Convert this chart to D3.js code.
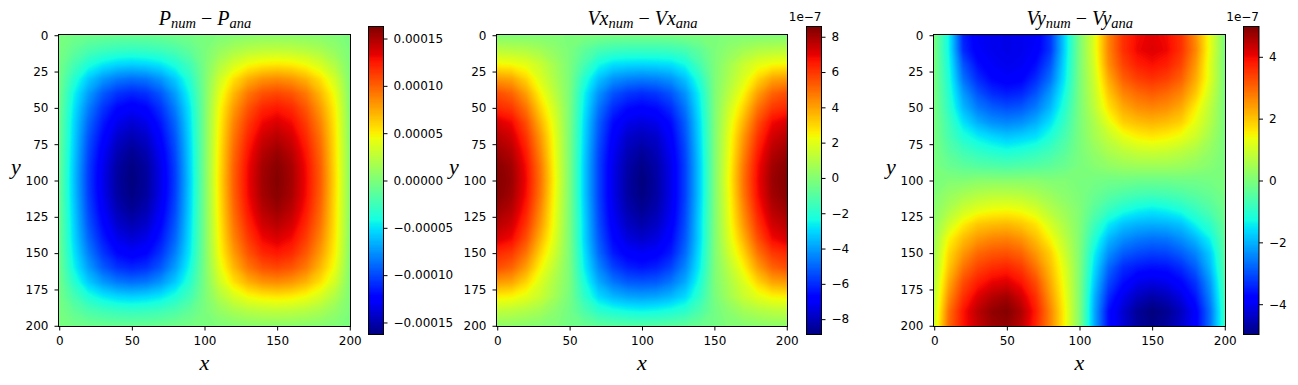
<!DOCTYPE html>
<html lang="en">

<head>
    <meta charset="UTF-8">
    <title>Numerical minus analytical fields</title>
    <script src="https://d3js.org/d3.v7.min.js"></script>
    <style>
        body {
            margin: 0;
            background: white;
        }

        text {
            font-family: "DejaVu Sans", sans-serif;
            font-size: 12px;
            fill: black;
        }

        .math, .math tspan {
            font-family: "Liberation Serif", serif;
            font-style: italic;
        }
    </style>
</head>

<body>
    <svg id="chart" width="1298" height="385"></svg>

    <script>
        // grids are read off the picture, one row every 10 cells in y, one value every 10 cells in x
        // pressure in 1e-5
        var pressureGrid = [
            [0, -.3, -.5, -.6, -.7, -.7, -.7, -.6, -.4, -.2, 0, .2, .4, .6, .7, .7, .7, .6, .5, .3, 0],
            [0, -1, -1.8, -2.3, -2.6, -2.7, -2.6, -2.3, -1.8, -1, 0, 1, 1.8, 2.3, 2.6, 2.7, 2.6, 2.3, 1.8, 1, .1],
            [-.2, -2, -3.6, -4.6, -5.2, -5.4, -5.2, -4.7, -3.6, -2.2, 0, 2.1, 3.6, 4.7, 5.2, 5.4, 5.2, 4.6, 3.6, 2.1, .2],
            [-.3, -3.2, -5.6, -7.2, -8.2, -8.6, -8.3, -7.3, -5.6, -3.2, 0, 3.2, 5.6, 7.3, 8.3, 8.6, 8.2, 7.2, 5.6, 3.4, .3],
            [-.4, -4.2, -7, -9.2, -10.5, -11, -10.6, -9.3, -7, -4, 0, 4, 7, 9.3, 10.6, 11, 10.5, 9.2, 7, 4.4, .4],
            [-.5, -4.7, -8, -10.4, -12, -12.6, -12.1, -10.5, -8, -4.6, 0, 4.6, 8, 10.5, 12.1, 12.6, 12, 10.4, 8, 5, .5],
            [-.6, -5.1, -8.8, -11.3, -13.1, -13.8, -13.2, -11.4, -8.8, -4.9, 0, 4.9, 8.8, 11.4, 13.2, 13.8, 13.1, 11.3, 8.8, 5.3, .6],
            [-.6, -5.3, -9.4, -12, -14, -14.8, -14.1, -12.1, -9.3, -5.1, 0, 5.1, 9.3, 12.1, 14.1, 14.8, 14, 12, 9.4, 5.5, .6],
            [-.7, -5.5, -9.8, -12.6, -14.7, -15.6, -14.8, -12.7, -9.7, -5.3, 0, 5.3, 9.7, 12.7, 14.8, 15.6, 14.7, 12.6, 9.8, 5.6, .7],
            [-.7, -5.7, -10.1, -13, -15.2, -16.1, -15.3, -13.1, -10, -5.4, 0, 5.4, 10, 13.1, 15.3, 16.1, 15.2, 13, 10.1, 5.7, .7],
            [-.7, -5.8, -10.2, -13.1, -15.3, -16.27, -15.4, -13.2, -10.1, -5.5, 0, 5.5, 10.1, 13.2, 15.4, 16.27, 15.3, 13.1, 10.2, 5.8, .7],
            [-.7, -5.7, -10.1, -13, -15.2, -16.1, -15.3, -13.1, -10, -5.4, 0, 5.4, 10, 13.1, 15.3, 16.1, 15.2, 13, 10.1, 5.7, .7],
            [-.7, -5.5, -9.8, -12.6, -14.7, -15.6, -14.8, -12.7, -9.7, -5.3, 0, 5.3, 9.7, 12.7, 14.8, 15.6, 14.7, 12.6, 9.8, 5.6, .7],
            [-.6, -5.3, -9.4, -12, -14, -14.8, -14.1, -12.1, -9.3, -5.1, 0, 5.1, 9.3, 12.1, 14.1, 14.8, 14, 12, 9.4, 5.5, .6],
            [-.6, -5.1, -8.8, -11.3, -13.1, -13.8, -13.2, -11.4, -8.8, -4.9, 0, 4.9, 8.8, 11.4, 13.2, 13.8, 13.1, 11.3, 8.8, 5.3, .6],
            [-.5, -4.7, -8, -10.4, -12, -12.6, -12.1, -10.5, -8, -4.6, 0, 4.6, 8, 10.5, 12.1, 12.6, 12, 10.4, 8, 5, .5],
            [-.4, -4.2, -7, -9.2, -10.5, -11, -10.6, -9.3, -7, -4, 0, 4, 7, 9.3, 10.6, 11, 10.5, 9.2, 7, 4.4, .4],
            [-.3, -3.2, -5.6, -7.2, -8.2, -8.6, -8.3, -7.3, -5.6, -3.2, 0, 3.2, 5.6, 7.3, 8.3, 8.6, 8.2, 7.2, 5.6, 3.4, .3],
            [-.2, -2, -3.6, -4.6, -5.2, -5.4, -5.2, -4.7, -3.6, -2.2, 0, 2.1, 3.6, 4.7, 5.2, 5.4, 5.2, 4.6, 3.6, 2.1, .2],
            [0, -1, -1.8, -2.3, -2.6, -2.7, -2.6, -2.3, -1.8, -1, 0, 1, 1.8, 2.3, 2.6, 2.7, 2.6, 2.3, 1.8, 1, .1],
            [0, -.3, -.5, -.6, -.7, -.7, -.7, -.6, -.4, -.2, 0, .2, .4, .6, .7, .7, .7, .6, .5, .3, 0]
        ];

        // vx in 1e-7
        var vxGrid = [
            [0, 0, 0, 0, 0, -.1, -.1, -.1, -.2, -.2, -.2, -.2, -.2, -.1, -.1, -.1, 0, 0, 0, 0, 0],
            [1.2, 1.1, 1, .7, .3, -.1, -.7, -1.2, -1.4, -1.5, -1.5, -1.5, -1.4, -1.2, -.7, -.1, .3, .7, 1, 1.1, 1.2],
            [2.5, 2.4, 2.1, 1.5, .7, -.1, -1.2, -2.3, -2.8, -2.9, -2.95, -2.9, -2.8, -2.3, -1.2, -.1, .7, 1.5, 2.1, 2.4, 2.5],
            [4.2, 4, 3.1, 1.9, .9, -.1, -1.9, -3.3, -4.1, -4.4, -4.5, -4.4, -4.1, -3.3, -1.9, -.1, .9, 1.9, 3.1, 4, 4.2],
            [5.6, 5.2, 4.1, 2.5, 1.2, -.1, -2.4, -4.1, -5.2, -5.7, -5.9, -5.7, -5.2, -4.1, -2.4, -.1, 1.2, 2.5, 4.1, 5.2, 5.6],
            [6.3, 6, 4.9, 3.1, 1.6, -.1, -2.6, -4.6, -5.9, -6.5, -6.7, -6.5, -5.9, -4.6, -2.6, -.1, 1.6, 3.1, 4.9, 6, 6.3],
            [7.3, 6.9, 5.6, 3.7, 1.9, -.1, -2.8, -5, -6.5, -7.2, -7.4, -7.2, -6.5, -5, -2.8, -.1, 1.9, 3.7, 5.6, 6.9, 7.3],
            [7.8, 7.4, 6.1, 4.2, 2.1, -.1, -2.9, -5.2, -6.8, -7.7, -7.95, -7.7, -6.8, -5.2, -2.9, -.1, 2.1, 4.2, 6.1, 7.4, 7.8],
            [8.2, 7.8, 6.5, 4.5, 2.2, -.1, -3, -5.4, -7, -8, -8.4, -8, -7, -5.4, -3, -.1, 2.2, 4.5, 6.5, 7.8, 8.2],
            [8.5, 8.1, 6.8, 4.8, 2.3, -.1, -3.1, -5.5, -7.2, -8.2, -8.7, -8.2, -7.2, -5.5, -3.1, -.1, 2.3, 4.8, 6.8, 8.1, 8.5],
            [8.58, 8.2, 6.9, 4.9, 2.4, -.1, -3.1, -5.5, -7.2, -8.3, -8.87, -8.3, -7.2, -5.5, -3.1, -.1, 2.4, 4.9, 6.9, 8.2, 8.58],
            [8.5, 8.1, 6.8, 4.8, 2.3, -.1, -3.1, -5.5, -7.2, -8.3, -8.8, -8.3, -7.2, -5.5, -3.1, -.1, 2.3, 4.8, 6.8, 8.1, 8.5],
            [8.2, 7.8, 6.5, 4.5, 2.2, -.1, -3, -5.4, -7.1, -8.1, -8.55, -8.1, -7.1, -5.4, -3, -.1, 2.2, 4.5, 6.5, 7.8, 8.2],
            [7.8, 7.4, 6.1, 4.2, 2.1, -.1, -2.9, -5.3, -6.9, -7.8, -8.2, -7.8, -6.9, -5.3, -2.9, -.1, 2.1, 4.2, 6.1, 7.4, 7.8],
            [7.3, 6.9, 5.6, 3.7, 1.9, -.1, -2.9, -5.1, -6.6, -7.4, -7.7, -7.4, -6.6, -5.1, -2.9, -.1, 1.9, 3.7, 5.6, 6.9, 7.3],
            [6.3, 6, 4.9, 3.1, 1.6, -.1, -2.7, -4.8, -6.2, -6.8, -7, -6.8, -6.2, -4.8, -2.7, -.1, 1.6, 3.1, 4.9, 6, 6.3],
            [5.6, 5.2, 4.1, 2.5, 1.2, -.1, -2.5, -4.3, -5.5, -6.1, -6.3, -6.1, -5.5, -4.3, -2.5, -.1, 1.2, 2.5, 4.1, 5.2, 5.6],
            [4.2, 4, 3.1, 1.9, .9, -.1, -2.1, -3.7, -4.6, -5.1, -5.2, -5.1, -4.6, -3.7, -2.1, -.1, .9, 1.9, 3.1, 4, 4.2],
            [2.6, 2.5, 2.1, 1.5, .7, -.2, -1.7, -2.9, -3.5, -3.8, -3.9, -3.8, -3.5, -2.9, -1.7, -.2, .7, 1.5, 2.1, 2.5, 2.6],
            [1.3, 1.2, 1, .7, .2, -.3, -1.1, -1.8, -2.1, -2.3, -2.4, -2.3, -2.1, -1.8, -1.1, -.3, .2, .7, 1, 1.2, 1.3],
            [.3, .3, .2, .1, 0, -.3, -.5, -.7, -.8, -.9, -.9, -.9, -.8, -.7, -.5, -.3, 0, .1, .2, .3, .3]
        ];

        // vy in 1e-7
        var vyGrid = [
            [0, -1.3, -3.4, -3.9, -4, -4.05, -4, -3.9, -3.2, -1.6, 0, 1.2, 2.7, 3.6, 4, 4.15, 4, 3.6, 2.6, 1.3, 0],
            [0, -1.3, -3.3, -3.85, -4, -4.05, -4, -3.85, -3.2, -1.6, 0, 1.2, 2.7, 3.6, 4.05, 4.2, 4.05, 3.6, 2.7, 1.3, 0],
            [0, -1.2, -2.9, -3.6, -3.9, -4, -3.95, -3.6, -2.9, -1.5, 0, 1.1, 2.6, 3.4, 3.8, 3.95, 3.8, 3.4, 2.5, 1.2, 0],
            [0, -1.1, -2.6, -3.3, -3.7, -3.85, -3.75, -3.3, -2.6, -1.4, 0, 1, 2.3, 3.1, 3.45, 3.6, 3.45, 3.1, 2.3, 1.2, 0],
            [0, -1, -2.2, -2.9, -3.3, -3.45, -3.35, -2.9, -2.2, -1.2, 0, .9, 2, 2.7, 3, 3.15, 3, 2.7, 2, 1, 0],
            [0, -.9, -1.9, -2.5, -2.8, -2.95, -2.85, -2.5, -1.9, -1, 0, .8, 1.7, 2.3, 2.6, 2.7, 2.6, 2.3, 1.6, .8, 0],
            [0, -.7, -1.5, -2, -2.3, -2.4, -2.3, -2, -1.5, -.8, 0, .6, 1.3, 1.9, 2.1, 2.2, 2.1, 1.9, 1.3, .7, 0],
            [0, -.6, -1.1, -1.4, -1.6, -1.75, -1.65, -1.5, -1.1, -.6, 0, .5, .9, 1.3, 1.55, 1.65, 1.55, 1.35, 1, .5, 0],
            [0, -.4, -.7, -.9, -1.05, -1.15, -1.05, -.9, -.7, -.4, 0, .3, .6, .8, .95, 1, .95, .8, .6, .3, 0],
            [0, -.2, -.35, -.45, -.5, -.55, -.5, -.45, -.35, -.2, 0, .15, .3, .4, .45, .45, .45, .4, .3, .15, 0],
            [0, .1, .1, .2, .2, .2, .2, .2, .1, .1, 0, -.05, -.1, -.1, -.15, -.15, -.15, -.1, -.1, -.05, 0],
            [.1, .35, .55, .7, .8, .8, .75, .6, .4, .2, .05, -.2, -.4, -.55, -.65, -.7, -.65, -.55, -.4, -.25, -.05],
            [.2, .6, 1, 1.25, 1.4, 1.45, 1.35, 1.1, .7, .4, .1, -.4, -.8, -1.1, -1.3, -1.4, -1.3, -1.1, -.8, -.5, -.15],
            [.3, 1, 1.6, 2, 2.1, 2.15, 2, 1.7, 1.1, .6, .1, -.7, -1.4, -1.8, -1.95, -2, -1.95, -1.8, -1.3, -.9, -.25],
            [.4, 1.5, 2.1, 2.5, 2.7, 2.75, 2.55, 2.1, 1.5, .8, .1, -1, -1.9, -2.3, -2.5, -2.6, -2.55, -2.3, -1.9, -1.3, -.35],
            [.5, 1.8, 2.5, 3, 3.2, 3.25, 3.05, 2.5, 1.9, 1, .1, -1.3, -2.3, -2.8, -3, -3.1, -3.05, -2.8, -2.4, -1.7, -.4],
            [.6, 2, 2.9, 3.4, 3.65, 3.75, 3.5, 2.9, 2.1, 1.2, .1, -1.5, -2.7, -3.3, -3.5, -3.6, -3.55, -3.3, -2.8, -1.9, -.5],
            [.7, 2.3, 3.3, 3.8, 4.1, 4.2, 3.9, 3.3, 2.3, 1.3, .1, -1.7, -3, -3.6, -4, -4.1, -4, -3.7, -3.2, -2.2, -.6],
            [.8, 2.6, 3.6, 4.2, 4.55, 4.7, 4.3, 3.6, 2.5, 1.4, .1, -1.9, -3.3, -4, -4.4, -4.6, -4.45, -4.1, -3.5, -2.4, -.7],
            [.9, 2.9, 3.9, 4.5, 4.85, 4.98, 4.6, 3.8, 2.7, 1.5, .1, -2, -3.6, -4.25, -4.75, -4.98, -4.8, -4.4, -3.8, -2.6, -.8],
            [1, 3, 3.9, 4.4, 4.75, 4.85, 4.5, 3.7, 2.7, 1.5, .1, -2, -3.6, -4.2, -4.7, -4.9, -4.7, -4.3, -3.8, -2.6, -.8]
        ];

        var gridStep = 10;
        var imageTicks = [0, 50, 100, 150, 200];
        var imageTicksY = [0, 25, 50, 75, 100, 125, 150, 175, 200];

        var pressureTicks = [-15, -10, -5, 0, 5, 10, 15];
        var vxTicks = [-8, -6, -4, -2, 0, 2, 4, 6, 8];
        var vyTicks = [-4, -2, 0, 2, 4];

        // jet colormap, same break points as matplotlib
        var jetR = d3.scaleLinear().domain([0, .35, .66, .89, 1]).range([0, 0, 255, 255, 128]);
        var jetG = d3.scaleLinear().domain([0, .125, .375, .64, .91, 1]).range([0, 0, 255, 255, 0, 0]);
        var jetB = d3.scaleLinear().domain([0, .11, .34, .65, 1]).range([128, 255, 255, 0, 0]);

        function jet(t) {
            return "rgb(" + Math.round(jetR(t)) + "," + Math.round(jetG(t)) + "," + Math.round(jetB(t)) + ")";
        }

        var svg = d3.select("#chart");

        var panels = [
            { id: "p", grid: pressureGrid, min: -16.27, max: 16.27, ticks: pressureTicks, left: 58.5, right: 350.5,
              barLeft: 368.5, barRight: 383.5, sym: "P", titleX: 205, offset: false, ylabelX: 16,
              tickFormat: function (d) { return d3.format(".5f")(d * 1e-5); } },
            { id: "vx", grid: vxGrid, min: -8.87, max: 8.58, ticks: vxTicks, left: 496.5, right: 787.5,
              barLeft: 806.5, barRight: 821.5, sym: "Vx", titleX: 642.5, offset: true, ylabelX: 454,
              tickFormat: d3.format("d") },
            { id: "vy", grid: vyGrid, min: -4.98, max: 4.98, ticks: vyTicks, left: 933.5, right: 1225.5,
              barLeft: 1243.5, barRight: 1259, sym: "Vy", titleX: 1079.8, offset: true, ylabelX: 891,
              tickFormat: d3.format("d") }
        ];

        var axesTop = 34.5, axesBottom = 326.5;
        var barTop = 26.5, barBottom = 334.5;

        panels.forEach(function (panel) {
            var g = svg.append("g").attr("class", "panel-" + panel.id);

            var x = d3.scaleLinear().domain([-0.5, 200.5]).range([panel.left, panel.right]);
            var y = d3.scaleLinear().domain([-0.5, 200.5]).range([axesTop, axesBottom]);
            var color = d3.scaleLinear().domain([panel.min, panel.max]).range([0, 1]);

            // one filled contour per level, stacked low to high, linear between grid values
            var rows = panel.grid.length, cols = panel.grid[0].length;
            var levels = d3.range(201).map(function (i) {
                return panel.min + (panel.max - panel.min) * i / 200;
            });
            levels[0] = panel.min - 1;
            var contours = d3.contours().size([cols, rows]).thresholds(levels)(panel.grid.flat());

            var project = d3.geoTransform({
                point: function (px, py) {
                    // d3.contours puts value i at i + 0.5
                    this.stream.point(x((px - 0.5) * gridStep), y((py - 0.5) * gridStep));
                }
            });
            var path = d3.geoPath(project);

            g.append("clipPath").attr("id", "clip-" + panel.id)
                .append("rect")
                .attr("x", panel.left).attr("y", axesTop)
                .attr("width", panel.right - panel.left).attr("height", axesBottom - axesTop);

            g.append("g")
                .attr("clip-path", "url(#clip-" + panel.id + ")")
                .selectAll("path")
                .data(contours)
                .enter()
                .append("path")
                .attr("d", path)
                .attr("fill", function (d, i) {
                    return jet(color(Math.max(levels[i], panel.min)));
                });

            g.append("rect")
                .attr("x", panel.left).attr("y", axesTop)
                .attr("width", panel.right - panel.left).attr("height", axesBottom - axesTop)
                .attr("fill", "none").attr("stroke", "black");

            var xAxis = d3.axisBottom(x).tickValues(imageTicks).tickSize(4).tickPadding(6).tickSizeOuter(0);
            var yAxis = d3.axisLeft(y).tickValues(imageTicksY).tickSize(4).tickPadding(6).tickSizeOuter(0);

            var gx = g.append("g").attr("transform", "translate(0," + axesBottom + ")").call(xAxis);
            var gy = g.append("g").attr("transform", "translate(" + panel.left + ",0)").call(yAxis);
            [gx, gy].forEach(function (a) {
                a.attr("font-family", null).attr("font-size", null);
                a.select(".domain").remove();
            });

            // colorbar
            var barY = d3.scaleLinear().domain([panel.min, panel.max]).range([barBottom, barTop]);
            var steps = d3.range(256);
            g.append("g")
                .attr("shape-rendering", "crispEdges")
                .selectAll("rect")
                .data(steps)
                .enter()
                .append("rect")
                .attr("x", panel.barLeft)
                .attr("width", panel.barRight - panel.barLeft)
                .attr("y", function (d) { return barY(panel.min + (panel.max - panel.min) * (d + 1) / 256); })
                .attr("height", (barBottom - barTop) / 256 + 0.6)
                .attr("fill", function (d) { return jet((d + 0.5) / 256); });

            g.append("rect")
                .attr("x", panel.barLeft).attr("y", barTop)
                .attr("width", panel.barRight - panel.barLeft).attr("height", barBottom - barTop)
                .attr("fill", "none").attr("stroke", "black");

            var barAxis = d3.axisRight(barY).tickValues(panel.ticks).tickFormat(panel.tickFormat)
                .tickSize(4).tickPadding(6).tickSizeOuter(0);
            var gb = g.append("g").attr("transform", "translate(" + panel.barRight + ",0)").call(barAxis);
            gb.attr("font-family", null).attr("font-size", null);
            gb.select(".domain").remove();

            if (panel.offset) {
                g.append("text")
                    .attr("x", panel.barRight).attr("y", 21)
                    .attr("text-anchor", "end")
                    .text("1e\u22127");
            }

            // title, P_num - P_ana style
            var title = g.append("text")
                .attr("class", "math")
                .attr("x", panel.titleX).attr("y", 25)
                .attr("text-anchor", "middle")
                .style("font-size", "20px");
            title.append("tspan").text(panel.sym);
            title.append("tspan").attr("dy", 3).style("font-size", "14.5px").text("num");
            title.append("tspan").attr("dy", -3).style("font-style", "normal").text(" \u2212 ");
            title.append("tspan").text(panel.sym);
            title.append("tspan").attr("dy", 3).style("font-size", "14.5px").text("ana");

            g.append("text")
                .attr("class", "math")
                .attr("x", (panel.left + panel.right) / 2).attr("y", 370)
                .attr("text-anchor", "middle")
                .style("font-size", "22px")
                .text("x");

            g.append("text")
                .attr("class", "math")
                .attr("x", panel.ylabelX).attr("y", 174)
                .attr("text-anchor", "middle")
                .style("font-size", "22px")
                .text("y");
        });
    </script>
</body>

</html>
